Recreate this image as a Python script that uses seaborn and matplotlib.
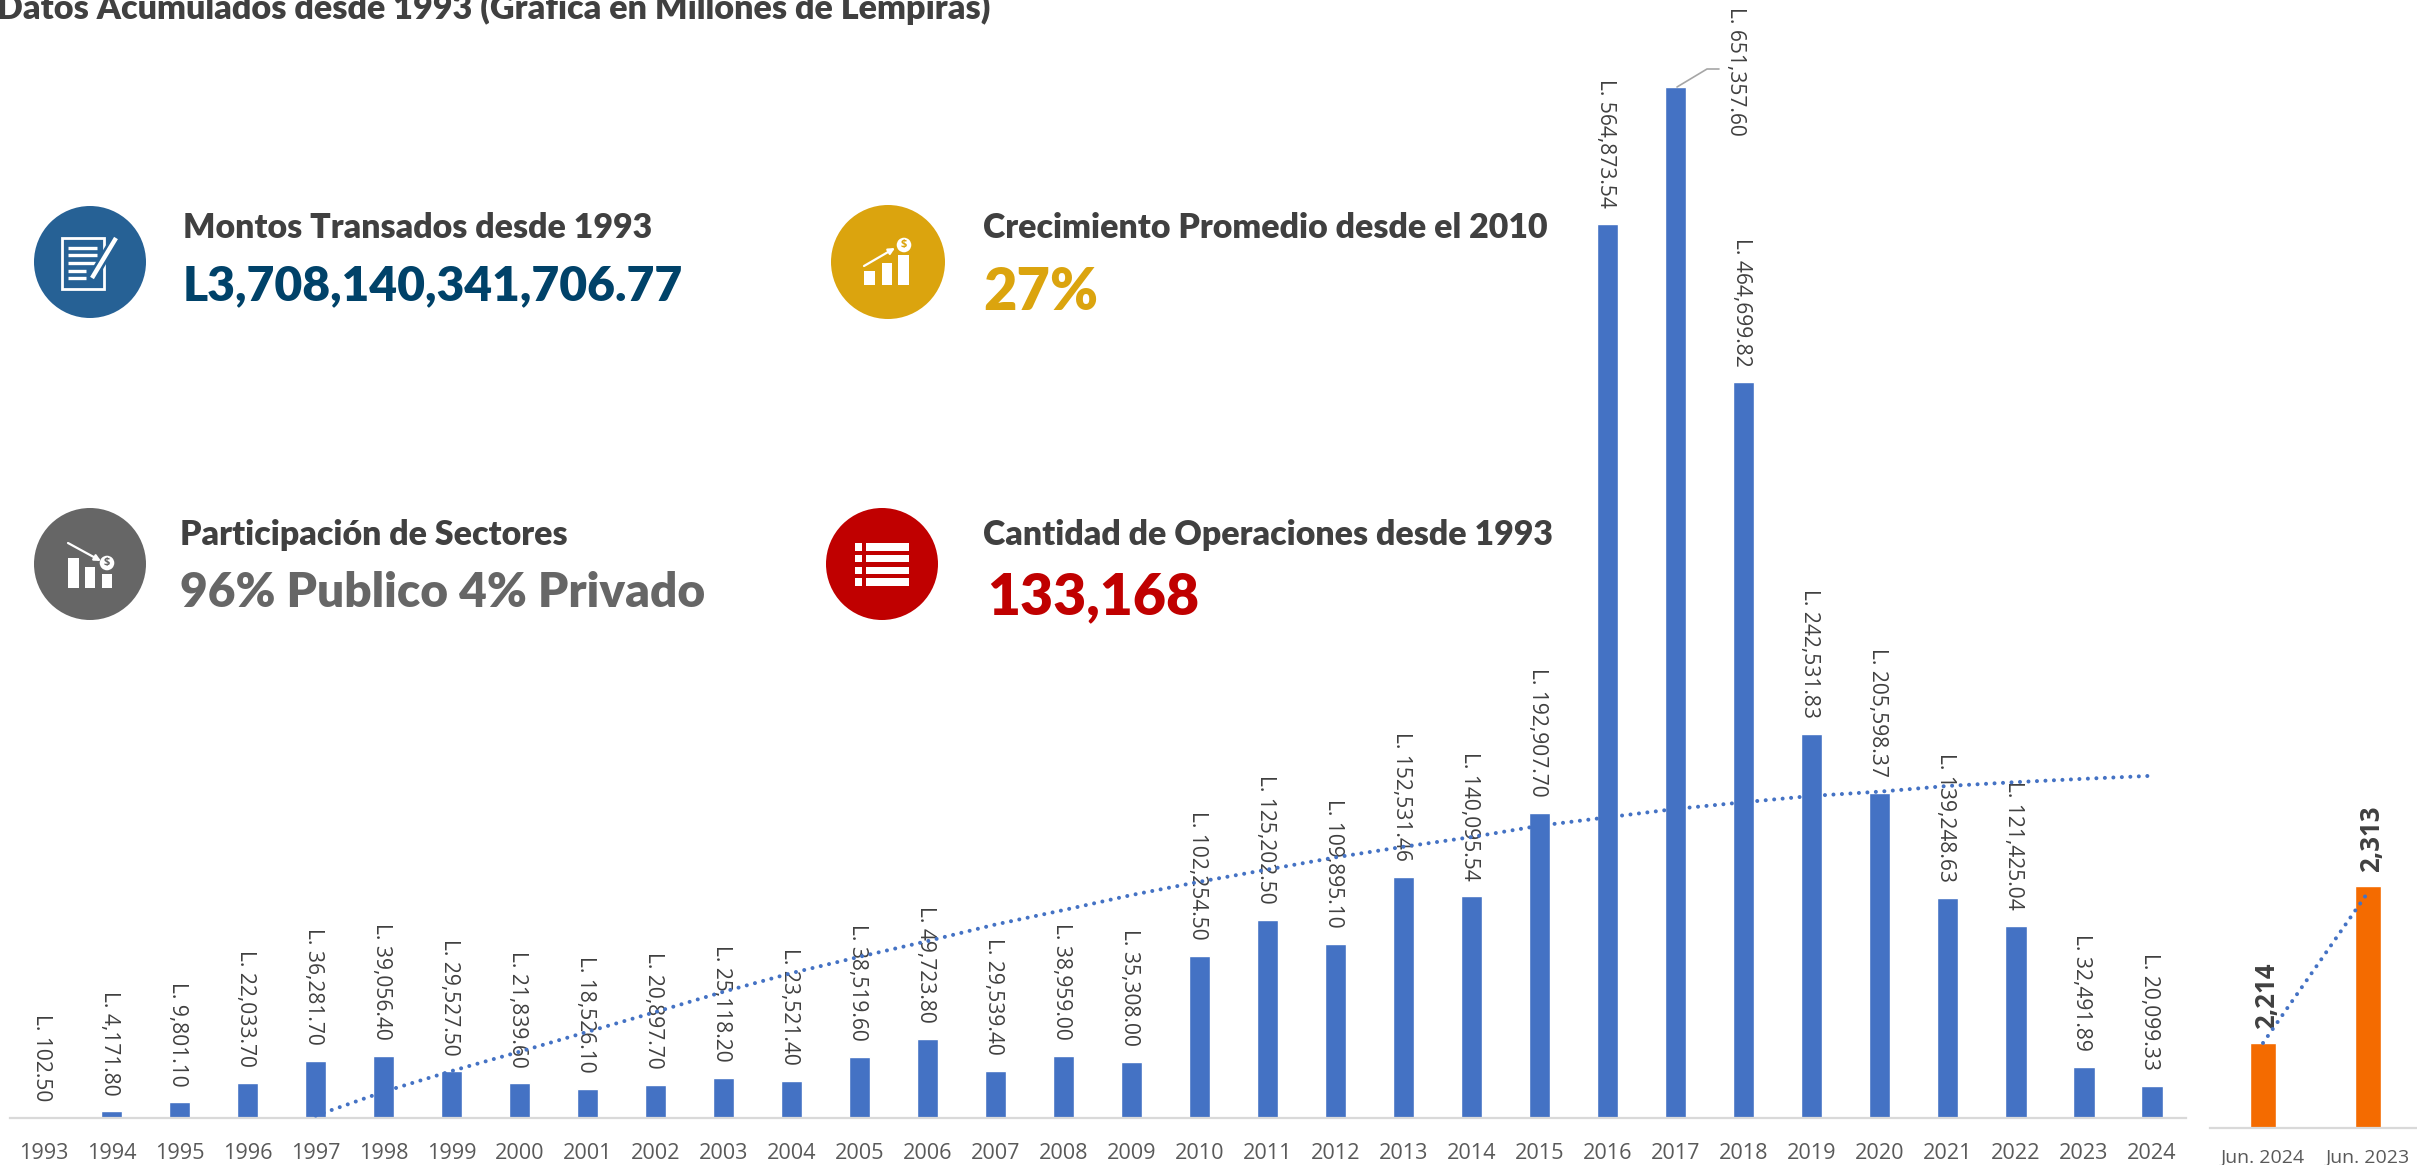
import matplotlib
matplotlib.use("Agg")
import matplotlib.pyplot as plt
from matplotlib.patches import Circle, Rectangle
import numpy as np
import seaborn as sns

sns.set_theme(style="white")

# montos transados por año
years = [str(y) for y in range(1993, 2025)]
montos = [102.50, 4171.80, 9801.10, 22033.70, 36281.70, 39056.40, 29527.50, 21839.60,
          18526.10, 20897.70, 25118.20, 23521.40, 38519.60, 49723.80, 29539.40, 38959.00,
          35308.00, 102254.50, 125202.50, 109895.10, 152531.46, 140095.54, 192907.70,
          564873.54, 651357.60, 464699.82, 242531.83, 205598.37, 139248.63, 121425.04,
          32491.89, 20099.33]

# linea de tendencia, empieza en 1997
trend_years = years[4:]
trend_vals = [1500, 16600, 29700, 41900, 54500, 67000, 79800, 91600, 101900, 111800,
              122300, 131400, 140900, 149300, 157000, 164700, 171400, 177500, 184700,
              190000, 195300, 199500, 203500, 206200, 209800, 212200, 214300, 216200]

# operaciones junio
meses = ["Jun. 2024", "Jun. 2023"]
ops = [2214, 2313]
ops_trend = [2214, 2309]

title = "Datos Acumulados desde 1993 (Gráfica en Millones de Lempiras)"
kpi_heads = ["Montos Transados desde 1993", "Crecimiento Promedio desde el 2010",
             "Participación de Sectores", "Cantidad de Operaciones desde 1993"]
kpi_vals = ["L3,708,140,341,706.77", "27%", "96% Publico 4% Privado", "133,168"]

W, H = 2417, 1165
BLUE = "#4472C4"
ORANGE = "#F46B00"
fig = plt.figure(figsize=(W / 100, H / 100), dpi=100, facecolor="white")


def px_axes(left, top, right, bottom):
    return fig.add_axes([left / W, 1 - bottom / H, (right - left) / W, (bottom - top) / H])


def dotted(ax, x, y):
    sns.lineplot(x=x, y=y, color=BLUE, linewidth=2.9, ax=ax, errorbar=None)
    line = ax.lines[-1]
    line.set_linestyle((0, (0.01, 2.1)))
    line.set_dash_capstyle("round")
    line.set_zorder(4)


# grafica principal
ax = px_axes(9.6, 0, 2186, 1118)
sns.barplot(x=years, y=montos, color=BLUE, saturation=1, width=0.31, ax=ax)
dotted(ax, [years.index(y) for y in trend_years], trend_vals)
ax.set_xlim(-0.5, 31.5)
ax.set_ylim(0, 1118 / 1.5828 * 1000)
ax.set_yticks([])
ax.tick_params(axis="x", length=0, pad=18)
for t in ax.get_xticklabels():
    t.set(fontfamily="Open Sans", fontsize=15.6, color="#595959")
for s in ["top", "left", "right"]:
    ax.spines[s].set_visible(False)
ax.spines["bottom"].set(color="#D9D9D9", linewidth=1.6)
ax.patch.set_alpha(0)

for i, v in enumerate(montos):
    off = (60, -49) if years[i] == "2017" else (-2, 16)
    ax.annotate(f"L. {v:,.2f}", (i, v), xytext=off, textcoords="offset pixels",
                rotation=-90, ha="center", va="bottom", fontfamily="Open Sans",
                fontsize=15.1, color="#404040", zorder=3)

# grafica de la derecha
ax2 = px_axes(2210, 780, 2417, 1128)
sns.barplot(x=meses, y=ops, color=ORANGE, saturation=1, width=0.25, ax=ax2)
dotted(ax2, [0, 1], ops_trend)
ax2.set_xlim(-0.505, 1.467)
ax2.set_ylim(2160.4, 2379.8)
ax2.set_yticks([])
ax2.tick_params(axis="x", length=0, pad=15)
for t in ax2.get_xticklabels():
    t.set(fontfamily="Open Sans", fontsize=14, color="#595959")
for s in ["top", "left", "right"]:
    ax2.spines[s].set_visible(False)
ax2.spines["bottom"].set(color="#D9D9D9", linewidth=1.6)
ax2.patch.set_alpha(0)
for i, v in enumerate(ops):
    ax2.annotate(f"{v:,}", (i, v), xytext=(4, 14), textcoords="offset pixels", rotation=90,
                 ha="center", va="bottom", fontfamily="Open Sans", fontweight="bold",
                 fontsize=18.5, color="#404040")

# capa en pixeles para titulo, tarjetas e iconos
top = fig.add_axes([0, 0, 1, 1], zorder=5)
top.set_xlim(0, W)
top.set_ylim(H, 0)
top.axis("off")

top.text(-3, 19, title, family="Lato", weight="heavy", fontsize=24.6, color="#404040",
         va="baseline", ha="left")

heads_pos = [(183, 228), (983, 228), (180, 535), (983, 535)]
for (x, y), s in zip(heads_pos, kpi_heads):
    top.text(x, y, s, family="Lato", weight="heavy", fontsize=24.4, color="#404040", va="center")

vals_pos = [(183, 286, 34.6, "#004269"), (983, 292, 41.5, "#DBA40E"),
            (180, 593, 34.5, "#666666"), (987, 597, 41, "#C00000")]
for (x, y, fs, c), s in zip(vals_pos, kpi_vals):
    top.text(x, y, s, family="Lato", weight="heavy", fontsize=fs, color=c, va="center")

# circulos
for x, y, r, c in [(90, 262, 56, "#266195"), (888, 262, 57, "#DBA40E"),
                   (90, 564, 56, "#666666"), (882, 564, 56, "#C00000")]:
    top.add_patch(Circle((x, y), r, color=c, lw=0))


def white_rect(x0, y0, x1, y1):
    top.add_patch(Rectangle((x0, y0), x1 - x0, y1 - y0, color="white", lw=0))


def coin(x, y, r, c):
    top.add_patch(Circle((x, y), r, facecolor="white", edgecolor=c, lw=1))
    top.text(x, y, "$", fontsize=8, color=c, ha="center", va="center", family="Open Sans",
             weight="bold")


# icono documento
top.add_patch(Rectangle((62, 238), 42, 51, facecolor="none", edgecolor="white", lw=2))
for y in [248, 255, 263, 271, 278]:
    top.plot([68, 97 if y < 270 else 86], [y, y], color="white", lw=2.4, solid_capstyle="butt")
top.plot([116, 92], [238, 278], color="#266195", lw=7, solid_capstyle="butt")
top.plot([116, 92], [238, 278], color="white", lw=3.2, solid_capstyle="butt")

# icono crecimiento
for x0, y0, x1 in [(864, 271, 875), (882, 263, 892), (898, 255, 909)]:
    white_rect(x0, y0, x1, 285)
top.annotate("", xy=(895, 248), xytext=(864, 266),
             arrowprops=dict(arrowstyle="-|>", color="white", lw=1.6, mutation_scale=9,
                             shrinkA=0, shrinkB=0))
coin(904, 245, 8, "#DBA40E")

# icono sectores
for x0, y0, x1 in [(68, 558, 79), (85, 567, 95), (102, 574, 112)]:
    white_rect(x0, y0, x1, 588)
top.annotate("", xy=(101, 561), xytext=(68, 543),
             arrowprops=dict(arrowstyle="-|>", color="white", lw=1.6, mutation_scale=9,
                             shrinkA=0, shrinkB=0))
coin(107, 563, 8, "#666666")

# icono lista
for y0, y1 in [(543, 551), (555, 562), (567, 574), (578, 586)]:
    white_rect(855, y0, 862, y1)
    white_rect(866, y0, 909, y1)

# guia de la etiqueta de 2017
top.plot([1677, 1707, 1719], [87, 69, 69], color="#A6A6A6", lw=1.2)

fig.savefig("out.png", dpi=100)
